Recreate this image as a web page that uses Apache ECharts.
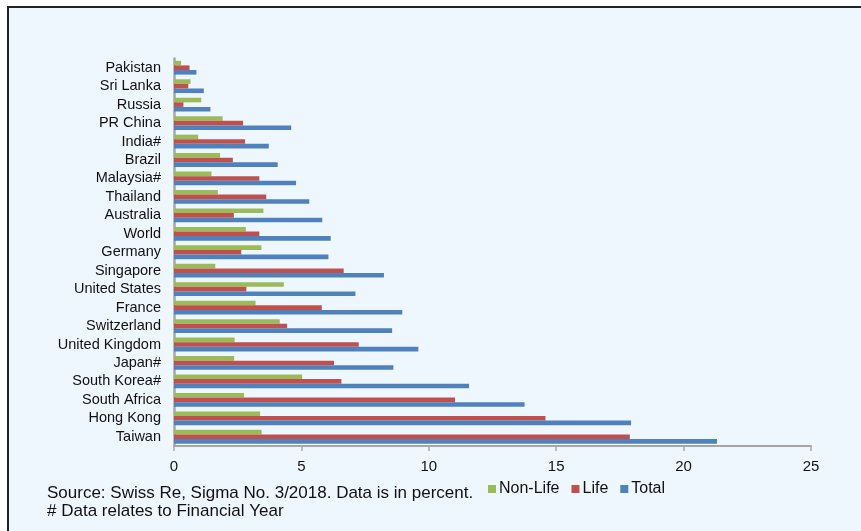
<!DOCTYPE html>
<html><head><meta charset="utf-8">
<script src="https://cdn.jsdelivr.net/npm/echarts@6/dist/echarts.min.js"></script>
<style>
html,body{margin:0;padding:0;background:#fff;}
#wrap{position:relative;width:861px;height:531px;overflow:hidden;background:#fff;}
#bg{position:absolute;left:7px;top:6px;right:0;bottom:0;background:#EFF7FE;border-left:2px solid #222;border-top:2px solid #222;}
#chart{position:absolute;left:0;top:0;width:861px;height:531px;}
</style></head>
<body><div id="wrap"><div id="bg"></div><div id="chart"></div></div>
<script>
var categories = ['Pakistan','Sri Lanka','Russia','PR China','India#','Brazil','Malaysia#','Thailand','Australia','World','Germany','Singapore','United States','France','Switzerland','United Kingdom','Japan#','South Korea#','South Africa','Hong Kong','Taiwan'];
var nonLife = [0.28,0.65,1.07,1.91,0.95,1.81,1.47,1.72,3.51,2.82,3.43,1.62,4.31,3.20,4.15,2.38,2.36,5.03,2.75,3.38,3.44];
var life    = [0.61,0.56,0.37,2.71,2.79,2.31,3.35,3.62,2.35,3.35,2.64,6.66,2.84,5.80,4.44,7.25,6.28,6.57,11.03,14.58,17.89];
var total   = [0.88,1.17,1.43,4.60,3.72,4.07,4.79,5.31,5.82,6.15,6.06,8.24,7.12,8.96,8.56,9.59,8.61,11.58,13.76,17.94,21.31];
var xTicks = [0,5,10,15,20,25];
var seriesNames = ['Non-Life','Life','Total'];
var colors = ['#9BBB59','#C0504D','#4F81BD'];
var font = 'Liberation Sans, Arial, sans-serif';

var chart = echarts.init(document.getElementById('chart'), null, {renderer:'canvas'});
var option = {
  backgroundColor: 'transparent',
  animation: false,
  color: colors,
  title: {
    text: 'Source: Swiss Re, Sigma No. 3/2018. Data is in percent.\n# Data relates to Financial Year',
    left: 42, top: 479,
    textStyle: {fontFamily: font, fontSize: 17, fontWeight: 'normal', color: '#111', lineHeight: 18}
  },
  legend: {
    data: seriesNames,
    left: 483, top: 476,
    itemWidth: 8, itemHeight: 8, itemGap: 12,
    icon: 'rect',
    textStyle: {fontFamily: font, fontSize: 16, color: '#111', padding: [0,0,0,-2]}
  },
  grid: {left: 174, right: 50, top: 58.5, bottom: 85, containLabel: false},
  xAxis: {
    type: 'value', min: xTicks[0], max: xTicks[xTicks.length-1], interval: 5,
    axisLine: {show: true, lineStyle: {color: '#A6A6A6', width: 2}},
    axisTick: {show: true, length: 5, lineStyle: {color: '#A6A6A6', width: 1.5}},
    splitLine: {show: false},
    axisLabel: {fontFamily: font, fontSize: 15, color: '#111', margin: 13}
  },
  yAxis: {
    type: 'category', data: categories, inverse: true,
    axisLine: {show: true, lineStyle: {color: '#A6A6A6', width: 2.5}},
    axisTick: {show: false},
    axisLabel: {fontFamily: font, fontSize: 14.5, color: '#111', margin: 13, interval: 0}
  },
  series: [
    {name: seriesNames[0], type: 'bar', data: nonLife, barWidth: 4.6, barGap: '0%'},
    {name: seriesNames[1], type: 'bar', data: life, barWidth: 4.6, barGap: '0%'},
    {name: seriesNames[2], type: 'bar', data: total, barWidth: 4.6, barGap: '0%'}
  ]
};
chart.setOption(option);
</script></body></html>
